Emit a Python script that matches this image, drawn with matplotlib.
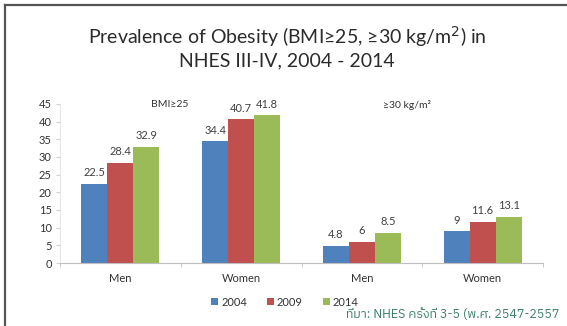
import matplotlib
matplotlib.use("Agg")
import matplotlib.pyplot as plt
from matplotlib import font_manager
import numpy as np

# ---- data ----
categories = ["Men", "Women", "Men", "Women"]
years = ["2004", "2009", "2014"]
v2004 = [22.5, 34.4, 4.8, 9]
v2009 = [28.4, 40.7, 6, 11.6]
v2014 = [32.9, 41.8, 8.5, 13.1]
yticks = [0, 5, 10, 15, 20, 25, 30, 35, 40, 45]
title_text = "Prevalence of Obesity (BMI≥25, ≥30 kg/m$^2$) in\nNHES III-IV, 2004 - 2014"
note1 = "BMI≥25"
note2 = "≥30 kg/m²"
source_text = "ที่มา: NHES ครั้งที่ 3-5 (พ.ศ. 2547-2557"

colors = ["#4F81BD", "#C0504D", "#9BBB59"]

# font selection
names = {f.name for f in font_manager.fontManager.ttflist}
base = "Lato" if "Lato" in names else "DejaVu Sans"
thai = [n for n in sorted(names) if "Thai" in n]
thai_family = ([thai[0]] if thai else []) + [base, "DejaVu Sans"]
plt.rcParams["font.family"] = [base, "DejaVu Sans"]

W, H = 567, 326
fig = plt.figure(figsize=(W / 100, H / 100), dpi=100)
fig.patch.set_facecolor("white")

# slide frame (top and left)
fig.add_artist(plt.Line2D([5 / W, 1], [1 - 5 / H, 1 - 5 / H], color="#555555", lw=1.6))
fig.add_artist(plt.Line2D([5 / W, 5 / W], [0, 1 - 5 / H], color="#555555", lw=1.6))

ax = fig.add_axes([60 / W, 1 - 263 / H, 483 / W, (263 - 104) / H])
x = np.arange(len(categories))
bw = 0.215
series = [v2004, v2009, v2014]
for i, (vals, c, lab) in enumerate(zip(series, colors, years)):
    xs = x + (i - 1) * bw
    bars = ax.bar(xs, vals, width=bw, color=c, label=lab, zorder=2)
    for b, v in zip(bars, vals):
        ax.annotate(f"{v:g}", (b.get_x() + b.get_width() / 2, v), xytext=(0, 4),
                    textcoords="offset points", ha="center", va="bottom",
                    fontsize=8, color="#404040")

ax.set_xlim(-0.5, len(categories) - 0.5)
ax.set_ylim(0, 45)
ax.set_yticks(yticks)
ax.set_xticks(x)
ax.set_xticklabels(categories, fontsize=8, color="#333333")
ax.set_xticks(np.arange(len(categories) + 1) - 0.5, minor=True)
ax.tick_params(axis="x", which="major", length=0, pad=7)
ax.tick_params(axis="x", which="minor", length=3, color="#bfbfbf")
ax.tick_params(axis="y", labelsize=8, labelcolor="#333333", length=3, color="#d0d0d0", pad=3)
for s in ["top", "right"]:
    ax.spines[s].set_visible(False)
ax.spines["bottom"].set_color("#bfbfbf")
ax.spines["left"].set_color("#e6e6e6")

fig.text(170 / W, 1 - 105 / H, note1, fontsize=7.5, color="#333333", ha="center", va="center")
fig.text(407 / W, 1 - 105 / H, note2, fontsize=7.5, color="#333333", ha="center", va="center")

fig.text(287 / W, 1 - 47 / H, title_text, fontsize=14, color="#2b2b2b",
         ha="center", va="center", linespacing=1.25)

leg = fig.legend(loc="center", bbox_to_anchor=(285 / W, 1 - 302 / H), ncol=3, frameon=False,
                 fontsize=8, handlelength=0.6, handleheight=0.6, handletextpad=0.3,
                 columnspacing=1.8)
for t in leg.get_texts():
    t.set_color("#333333")

fig.text(346 / W, 1 - 314 / H, source_text, fontsize=9, color="#3d7f70",
         ha="left", va="center", family=thai_family)

fig.savefig("out.png", dpi=100, facecolor="white")
